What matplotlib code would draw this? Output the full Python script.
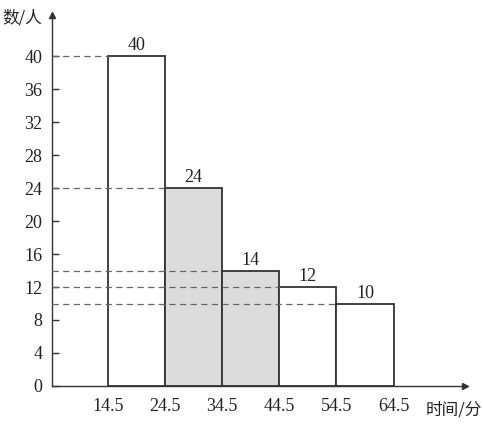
import matplotlib.pyplot as plt
import numpy as np

plt.rcParams['font.family'] = ['Liberation Serif', 'Noto Sans CJK SC', 'DejaVu Sans']

#%% data
edges = [14.5, 24.5, 34.5, 44.5, 54.5, 64.5]
counts = [40, 24, 14, 12, 10]
shaded = [False, True, True, False, False]
yticks = list(range(0, 41, 4))

#%% plot
fig = plt.figure(figsize=(4.83, 4.26), dpi=100)
ax = fig.add_axes([0.1077, 0.094, 0.855, 0.871])
ax.set_xlim(4.7, 77)
ax.set_ylim(0, 45)

lc = '#333333'
for i, c in enumerate(counts):
    left = edges[i]
    w = edges[i + 1] - edges[i]
    fc = '#dcdcdc' if shaded[i] else 'white'
    ax.bar(left, c, width=w, align='edge', facecolor=fc, edgecolor=lc, linewidth=1.3, zorder=2)
    ax.text(left + w / 2, c + 0.2, str(c), ha='center', va='bottom', fontsize=13, color='#222222')
    # dashed guide from y axis to bar
    ax.plot([4.7, left], [c, c], linestyle=(0, (5, 3.5)), color='#666666', linewidth=0.9, zorder=3)

for s in ['top', 'right']:
    ax.spines[s].set_visible(False)
for s in ['left', 'bottom']:
    ax.spines[s].set_color(lc)
    ax.spines[s].set_linewidth(1.0)

ax.plot(1, 0, '>', color=lc, markersize=5, transform=ax.transAxes, clip_on=False)
ax.plot(0, 1, '^', color=lc, markersize=5, transform=ax.transAxes, clip_on=False)

ax.set_yticks(yticks)
ax.set_yticklabels([str(v) for v in yticks], fontsize=13, color='#222222')
ax.tick_params(axis='y', direction='in', length=5, width=1.0, color=lc, pad=7)
ax.set_xticks(edges)
ax.set_xticklabels([str(e) for e in edges], fontsize=13, color='#222222')
ax.tick_params(axis='x', length=0, pad=9)

ax.text(-0.55, 44.6, '数/人', ha='center', va='center', fontsize=12,
        family=['Noto Sans CJK SC', 'DejaVu Sans'], color='#222222', clip_on=False)
ax.text(75.0, -2.9, '时间/分', ha='center', va='center', fontsize=12,
        family=['Noto Sans CJK SC', 'DejaVu Sans'], color='#222222', clip_on=False)

fig.savefig('out.png', dpi=100)
